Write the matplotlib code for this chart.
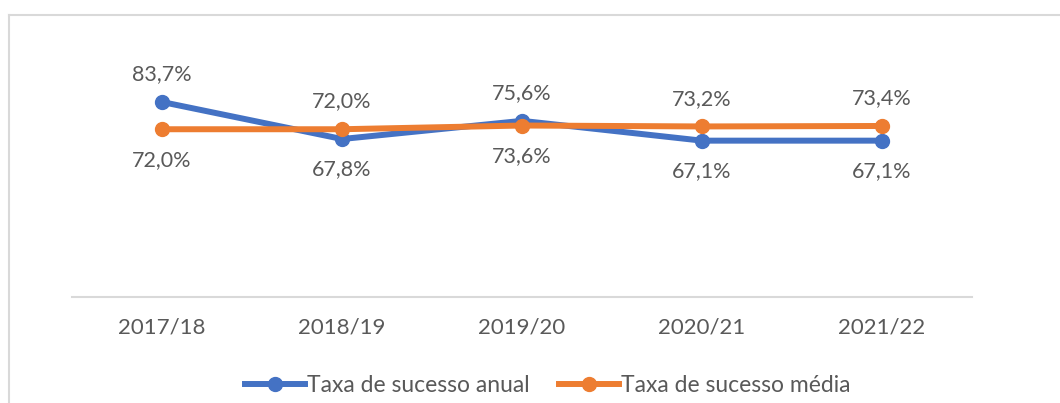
import matplotlib
matplotlib.use("Agg")
import matplotlib.pyplot as plt
from matplotlib.lines import Line2D

categories = ["2017/18", "2018/19", "2019/20", "2020/21", "2021/22"]
anual = [83.7, 67.8, 75.6, 67.1, 67.1]
media = [72.0, 72.0, 73.6, 73.2, 73.4]
anual_pos = ["above", "below", "above", "below", "below"]
media_pos = ["below", "above", "below", "above", "above"]
series_names = ["Taxa de sucesso anual", "Taxa de sucesso média"]

BLUE = "#4472C4"
ORANGE = "#ED7D31"
GRAY = "#595959"
plt.rcParams['font.family'] = ['Lato', 'DejaVu Sans']

W, H = 1060, 403
fig = plt.figure(figsize=(W/100, H/100), dpi=100)
# axes: x 72..972, y 64..297 (pixels)
ax = fig.add_axes([72/W, 1-297/H, 900/W, (297-64)/H])
x = list(range(len(categories)))
ax.plot(x, anual, color=BLUE, lw=4.3, marker="o", ms=10, solid_capstyle="round", zorder=3)
ax.plot(x, media, color=ORANGE, lw=4.3, marker="o", ms=10, solid_capstyle="round", zorder=4)

def fmt(v):
    return f"{v:.1f}%".replace(".", ",")

for xi, v, p in zip(x, anual, anual_pos):
    off = 20 if p == "above" else -22
    ax.annotate(fmt(v), (xi, v), xytext=(0, off), textcoords="offset points",
                ha="center", va="center", fontsize=15.5, color=GRAY)
for xi, v, p in zip(x, media, media_pos):
    off = 20 if p == "above" else -22
    ax.annotate(fmt(v), (xi, v), xytext=(0, off), textcoords="offset points",
                ha="center", va="center", fontsize=15.5, color=GRAY)

ax.set_xlim(-0.5, len(categories) - 0.5)
ax.set_ylim(0, 100)
ax.set_xticks(x)
ax.set_xticklabels(categories, fontsize=16, color=GRAY)
ax.tick_params(axis="x", length=0, pad=15)
ax.set_yticks([])
for s in ["top", "left", "right"]:
    ax.spines[s].set_visible(False)
ax.spines["bottom"].set_color("#D9D9D9")
ax.spines["bottom"].set_linewidth(1.5)

handles = [Line2D([0], [0], color=BLUE, lw=4.3, marker="o", ms=10),
           Line2D([0], [0], color=ORANGE, lw=4.3, marker="o", ms=10)]
fig.legend(handles, series_names, loc="center", bbox_to_anchor=(548/W, 1-386/H),
           ncol=2, frameon=False, fontsize=16.5, labelcolor=GRAY,
           handlelength=2.6, handletextpad=0.1, columnspacing=1.3)

# chart border (top and left visible)
fig.add_artist(Line2D([9/W, 1], [1-15/H, 1-15/H], color="#D9D9D9", lw=1.5))
fig.add_artist(Line2D([9/W, 9/W], [0, 1-15/H], color="#D9D9D9", lw=1.5))

fig.savefig("out.png", dpi=100)
